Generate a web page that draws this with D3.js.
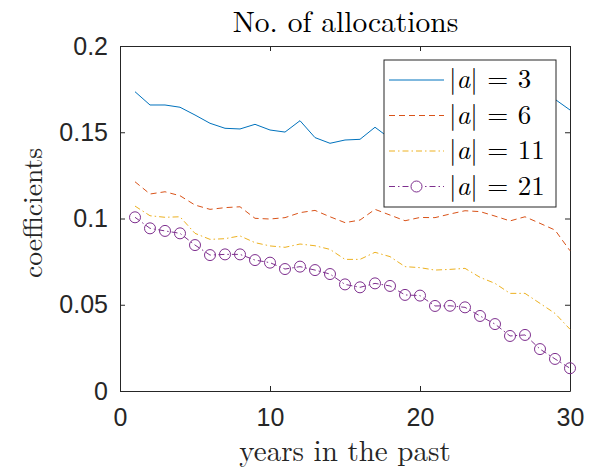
<!DOCTYPE html>
<html>
<head>
<meta charset="utf-8">
<script src="https://cdn.jsdelivr.net/npm/d3@7"></script>
<style>
  html, body { margin: 0; padding: 0; background: #fff; }
  svg { display: block; }
  .serif { font-family: "Latin Modern Roman", "CMU Serif", "Liberation Serif", serif; }
  .sans { font-family: "Liberation Sans", Arial, Helvetica, sans-serif; }
</style>
</head>
<body>
<svg id="chart" width="591" height="470"></svg>
<script>
// Years back in time (x) and allocation-size coefficients (y)
const years = [1, 2, 3, 4, 5, 6, 7, 8, 9, 10, 11, 12, 13, 14, 15,
               16, 17, 18, 19, 20, 21, 22, 23, 24, 25, 26, 27, 28, 29, 30];

const coefA3 = [0.1735, 0.1658, 0.1658, 0.1645, 0.1600, 0.1552, 0.1523, 0.1519, 0.1546, 0.1513,
                0.1501, 0.1567, 0.1469, 0.1436, 0.1455, 0.1459, 0.1529, 0.1464, 0.1490, 0.1510,
                0.1530, 0.1550, 0.1570, 0.1590, 0.1610, 0.1630, 0.1650, 0.1670, 0.1691, 0.1629];

const coefA6 = [0.1213, 0.1142, 0.1155, 0.1132, 0.1078, 0.1053, 0.1063, 0.1068, 0.1001, 0.0997,
                0.1005, 0.1034, 0.1047, 0.1010, 0.0976, 0.0991, 0.1053, 0.1020, 0.0987, 0.1006,
                0.1005, 0.1026, 0.1045, 0.1040, 0.1014, 0.0986, 0.1010, 0.0972, 0.0933, 0.0813];

const coefA11 = [0.1072, 0.1016, 0.1007, 0.1010, 0.0914, 0.0879, 0.0883, 0.0899, 0.0860, 0.0841,
                 0.0833, 0.0852, 0.0842, 0.0821, 0.0763, 0.0763, 0.0804, 0.0779, 0.0721, 0.0715,
                 0.0701, 0.0705, 0.0711, 0.0659, 0.0624, 0.0566, 0.0566, 0.0508, 0.0450, 0.0358];

const coefA21 = [0.1007, 0.0943, 0.0928, 0.0914, 0.0846, 0.0788, 0.0792, 0.0792, 0.0759, 0.0744,
                 0.0707, 0.0721, 0.0701, 0.0678, 0.0618, 0.0601, 0.0624, 0.0609, 0.0557, 0.0553,
                 0.0493, 0.0494, 0.0485, 0.0435, 0.0388, 0.0319, 0.0325, 0.0243, 0.0186, 0.0132];

const seriesSizes = ["3", "6", "11", "21"];
const xTicks = [0, 10, 20, 30];
const yTicks = [0, 0.05, 0.1, 0.15, 0.2];
const yTickLabels = ["0", "0.05", "0.1", "0.15", "0.2"];

const titleText = "No. of allocations";
const xLabelText = "years in the past";
const yLabelText = "coefficients";

// Line styles per series
const styles = [
  { color: "#0072BD", dash: null, marker: false },
  { color: "#D95319", dash: "6,4", marker: false },
  { color: "#EDB120", dash: "6,3,1.5,3", marker: false },
  { color: "#7E2F8E", dash: "6,3,1.5,3", marker: true }
];
const seriesValues = [coefA3, coefA6, coefA11, coefA21];

const svg = d3.select("#chart");
const plot = { left: 120, right: 570, top: 46, bottom: 391 };

const x = d3.scaleLinear().domain([0, 30]).range([plot.left, plot.right]);
const y = d3.scaleLinear().domain([0, 0.2]).range([plot.bottom, plot.top]);

const axisColor = "#262626";

// Axes: bottom and left with labels, top and right close the box with inward ticks
const tickLen = 5;
const xAxisBottom = d3.axisBottom(x).tickValues(xTicks).tickSizeInner(-tickLen).tickSizeOuter(0).tickPadding(17);
const xAxisTop = d3.axisTop(x).tickValues(xTicks).tickSizeInner(-tickLen).tickSizeOuter(0).tickFormat("");
const yAxisLeft = d3.axisLeft(y).tickValues(yTicks).tickSizeInner(-tickLen).tickSizeOuter(0).tickPadding(12)
  .tickFormat(d => yTickLabels[yTicks.indexOf(d)]);
const yAxisRight = d3.axisRight(y).tickValues(yTicks).tickSizeInner(-tickLen).tickSizeOuter(0).tickFormat("");

function styleAxis(g) {
  g.attr("font-family", null).attr("font-size", null).attr("class", "sans");
  g.select(".domain").attr("stroke", axisColor).attr("stroke-width", 1);
  g.selectAll(".tick line").attr("stroke", axisColor).attr("stroke-width", 1);
  g.selectAll(".tick text").attr("fill", axisColor).attr("font-size", 25);
}

svg.append("g").attr("transform", `translate(0,${plot.bottom})`).call(xAxisBottom).call(styleAxis);
svg.append("g").attr("transform", `translate(0,${plot.top})`).call(xAxisTop).call(styleAxis);
svg.append("g").attr("transform", `translate(${plot.left},0)`).call(yAxisLeft).call(styleAxis);
svg.append("g").attr("transform", `translate(${plot.right},0)`).call(yAxisRight).call(styleAxis);

// Series lines
const line = d3.line().x((d, i) => x(years[i])).y(d => y(d));
seriesValues.forEach((vals, k) => {
  const st = styles[k];
  svg.append("path")
    .datum(vals)
    .attr("d", line)
    .attr("fill", "none")
    .attr("stroke", st.color)
    .attr("stroke-width", 1)
    .attr("stroke-dasharray", st.dash);
  if (st.marker) {
    svg.append("g").selectAll("circle")
      .data(vals)
      .join("circle")
      .attr("cx", (d, i) => x(years[i]))
      .attr("cy", d => y(d))
      .attr("r", 5.5)
      .attr("fill", "none")
      .attr("stroke", st.color)
      .attr("stroke-width", 1);
  }
});

// Title and axis labels (LaTeX-style serif)
svg.append("text")
  .attr("class", "serif")
  .attr("x", (plot.left + plot.right) / 2 + 0.5)
  .attr("y", 32)
  .attr("text-anchor", "middle")
  .attr("fill", "#000")
  .attr("font-size", 29.5)
  .text(titleText);

svg.append("text")
  .attr("class", "serif")
  .attr("x", (plot.left + plot.right) / 2)
  .attr("y", 461)
  .attr("text-anchor", "middle")
  .attr("fill", "#262626")
  .attr("font-size", 29)
  .text(xLabelText);

svg.append("text")
  .attr("class", "serif")
  .attr("transform", `translate(41.5,213) rotate(-90)`)
  .attr("text-anchor", "middle")
  .attr("fill", "#262626")
  .attr("font-size", 27.5)
  .text(yLabelText);

// Legend
const legend = svg.append("g");
const lg = { x0: 384, y0: 60, x1: 556, y1: 207 };
legend.append("rect")
  .attr("x", lg.x0).attr("y", lg.y0)
  .attr("width", lg.x1 - lg.x0).attr("height", lg.y1 - lg.y0)
  .attr("fill", "#fff")
  .attr("stroke", axisColor)
  .attr("stroke-width", 1);

const rowY = [80, 115.5, 151, 186.5];
seriesSizes.forEach((s, k) => {
  const st = styles[k];
  const yy = rowY[k];
  legend.append("line")
    .attr("x1", 389).attr("x2", 444)
    .attr("y1", yy).attr("y2", yy)
    .attr("stroke", st.color)
    .attr("stroke-width", 1)
    .attr("stroke-dasharray", st.dash);
  if (st.marker) {
    legend.append("circle")
      .attr("cx", 416.5).attr("cy", yy).attr("r", 5.5)
      .attr("fill", "#fff")
      .attr("stroke", st.color)
      .attr("stroke-width", 1);
  }
  const t = legend.append("text")
    .attr("class", "serif")
    .attr("x", 449)
    .attr("y", yy + 8)
    .attr("fill", "#000")
    .attr("font-size", 27);
  t.append("tspan").text("|");
  t.append("tspan").attr("font-style", "italic").text("a");
  t.append("tspan").text("|");
  t.append("tspan").attr("dx", 9.5).text("=");
  t.append("tspan").attr("dx", 9.5).text(s);
});
</script>
</body>
</html>
